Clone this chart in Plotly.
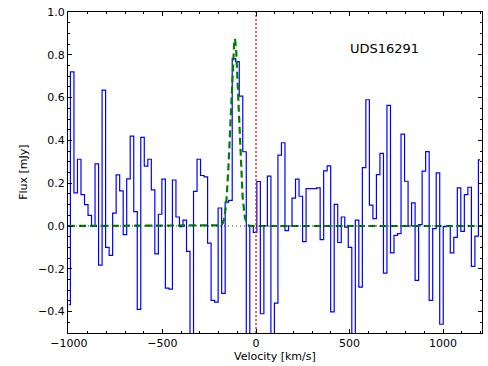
import numpy as np
import plotly.graph_objects as go

# Spectrum channels: uniform velocity grid (km/s), bin centres
channel_width = 18.8
first_edge = -1010.8
n_channels = 118
velocity = first_edge + channel_width * (np.arange(n_channels) + 0.5)

# Measured flux density per channel (mJy)
flux = [
    -0.368, 0.72, 0.155, 0.312, 0.147, 0.10, 0.05, 0.0, 0.29, -0.183,
    0.635, -0.10, -0.137, 0.06, 0.239, 0.164, -0.04, 0.22, 0.42, 0.067,
    -0.39, 0.414, 0.28, 0.312, 0.169, -0.13, 0.055, 0.219, -0.29, -0.295,
    0.215, 0.042, -0.003, 0.027, -0.119, -0.60, 0.162, 0.312, 0.236, 0.23,
    -0.08, -0.348, -0.356, 0.084, -0.315, 0.112, 0.12, 0.782, 0.768, 0.607,
    0.347, -0.60, 0.0, -0.03, 0.208, -0.41, 0.0, 0.233, -0.60, -0.36,
    0.331, 0.389, -0.022, 0.0, 0.13, 0.219, 0.139, -0.073, 0.175, 0.175,
    0.175, 0.178, -0.064, 0.258, 0.281, -0.401, 0.101, -0.077, 0.042, -0.005,
    -0.10, -0.60, 0.027, -0.286, 0.273, 0.59, 0.098, 0.034, 0.24, 0.339,
    -0.22, 0.564, -0.126, -0.044, -0.036, 0.429, 0.209, 0.0, 0.108, -0.254,
    0.006, 0.256, 0.348, -0.348, -0.012, 0.248, -0.459, -0.003, -0.002, -0.126,
    -0.053, 0.178, -0.025, 0.147, 0.181, -0.189, -0.047, 0.309,
]

# Gaussian line fit parameters
fit_amplitude = 0.875   # mJy
fit_center = -114.0     # km/s
fit_sigma = 22.0        # km/s

source_name = "UDS16291"
x_ticks = [-1000, -500, 0, 500, 1000]
x_range = [-1005, 1208]
y_range = [-0.5, 1.0]

v_model = np.linspace(x_range[0], x_range[1], 3000)
f_model = fit_amplitude * np.exp(-0.5 * ((v_model - fit_center) / fit_sigma) ** 2)

font = "DejaVu Sans, Liberation Sans, sans-serif"

fig = go.Figure()
fig.add_trace(go.Scatter(
    x=velocity, y=flux, mode="lines", line_shape="hvh",
    line=dict(color="#0000ff", width=1.2), showlegend=False,
))
fig.add_trace(go.Scatter(
    x=v_model, y=f_model, mode="lines",
    line=dict(color="#008000", width=2.2, dash="7px,4px"), showlegend=False,
))
fig.add_trace(go.Scatter(
    x=x_range, y=[0, 0], mode="lines",
    line=dict(color="black", width=0.8, dash="1px,3px"), showlegend=False,
))
fig.add_trace(go.Scatter(
    x=[0, 0], y=y_range, mode="lines",
    line=dict(color="red", width=1.3, dash="2px,2px"), showlegend=False,
))

fig.update_layout(
    width=488, height=366,
    margin=dict(l=68, r=6, t=12, b=33),
    paper_bgcolor="white", plot_bgcolor="white",
    font=dict(family=font, size=11, color="black"),
    xaxis=dict(
        range=x_range, tickvals=x_ticks, ticks="inside", ticklen=4,
        tickcolor="black", showline=True, linecolor="black", linewidth=1,
        mirror="allticks", showgrid=False, zeroline=False,
        minor=dict(dtick=100, ticks="inside", ticklen=2, tickcolor="black"),
    ),
    yaxis=dict(
        range=y_range, dtick=0.2, tick0=0, tickformat=".1f", ticks="inside",
        ticklen=4, tickcolor="black", showline=True, linecolor="black",
        linewidth=1, mirror="allticks", showgrid=False, zeroline=False,
        minor=dict(dtick=0.05, ticks="inside", ticklen=2, tickcolor="black"),
    ),
    annotations=[
        dict(text=source_name, x=0.765, y=0.885, xref="paper", yref="paper",
             showarrow=False, font=dict(size=13), xanchor="center", yanchor="middle"),
        dict(text="Velocity [km/s]", x=0.5, y=-0.074, xref="paper", yref="paper",
             showarrow=False, xanchor="center", yanchor="middle"),
        dict(text="Flux [mJy]", x=-0.108, y=0.5, xref="paper", yref="paper",
             showarrow=False, textangle=-90, xanchor="center", yanchor="middle"),
    ],
)

fig.write_html("out.html")
